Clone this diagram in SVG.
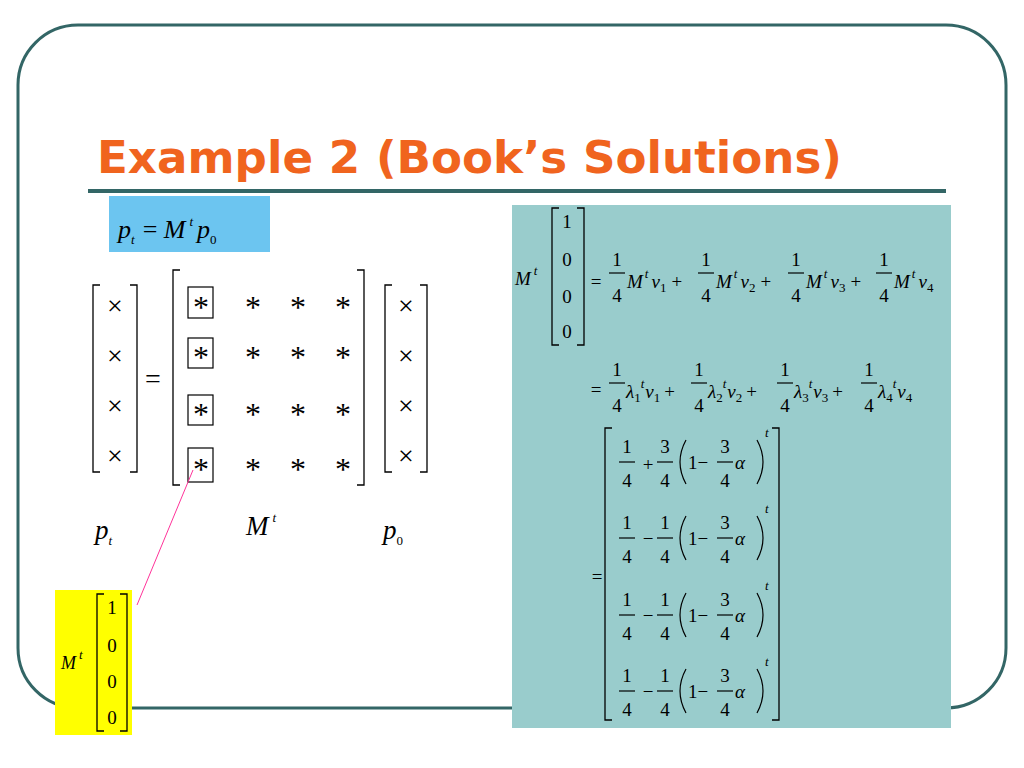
<svg xmlns="http://www.w3.org/2000/svg" width="1024" height="768" viewBox="0 0 1024 768">
<defs>
<style>
.m{font-family:"Liberation Serif",serif;fill:#000}
.i{font-style:italic}
.s{font-size:13px}
.br{fill:none;stroke:#000;stroke-width:1.3}
.fb{stroke:#000;stroke-width:1.2}
</style>
</defs>
<rect x="18" y="25" width="988" height="683" rx="60" fill="#fff" stroke="#336666" stroke-width="3"/>
<text x="97" y="173" font-family="Verdana,'DejaVu Sans',sans-serif" font-weight="bold" font-size="44" fill="#f0641e" textLength="745" lengthAdjust="spacingAndGlyphs">Example 2 (Book’s Solutions)</text>
<line x1="88" y1="191" x2="946" y2="191" stroke="#336666" stroke-width="4"/>

<g id="eq-top">
<rect x="109" y="196" width="161" height="56" fill="#6cc5f0"/>
<text class="m" x="118" y="238" font-size="26"><tspan class="i">p</tspan><tspan class="s i" dy="6">t</tspan><tspan dy="-6" dx="8">= </tspan><tspan class="i">M</tspan><tspan class="s i" dy="-12" dx="4">t</tspan><tspan class="i" dy="12" dx="4">p</tspan><tspan class="s" dy="6">0</tspan></text>
</g>

<g id="left-matrices">
<path class="br" d="M100,285 H93 V472 H100 M130,285 H137 V472 H130"/>
<g class="m" text-anchor="middle" font-size="28"><text x="115" y="315">×</text><text x="115" y="365">×</text><text x="115" y="415">×</text><text x="115" y="465">×</text></g>
<text class="m" x="153" y="388" text-anchor="middle" font-size="28">=</text>
<path class="br" d="M180,270 H173 V485 H180 M357,270 H364 V485 H357"/>
<g class="m" text-anchor="middle" font-size="32">
<text x="201" y="318">*</text><text x="253" y="318">*</text><text x="298" y="318">*</text><text x="343" y="318">*</text>
<text x="201" y="368">*</text><text x="253" y="368">*</text><text x="298" y="368">*</text><text x="343" y="368">*</text>
<text x="201" y="425">*</text><text x="253" y="425">*</text><text x="298" y="425">*</text><text x="343" y="425">*</text>
<text x="201" y="480">*</text><text x="253" y="480">*</text><text x="298" y="480">*</text><text x="343" y="480">*</text>
</g>
<g fill="none" stroke="#000" stroke-width="1.2">
<rect x="188" y="287" width="25" height="31"/><rect x="188" y="338" width="25" height="30"/>
<rect x="188" y="395" width="25" height="30"/><rect x="188" y="448" width="25" height="34"/>
</g>
<path class="br" d="M392,285 H385 V472 H392 M420,285 H427 V472 H420"/>
<g class="m" text-anchor="middle" font-size="28"><text x="406" y="315">×</text><text x="406" y="365">×</text><text x="406" y="415">×</text><text x="406" y="465">×</text></g>
<text class="m" x="95" y="539" font-size="27"><tspan class="i">p</tspan><tspan class="s i" dy="6">t</tspan></text>
<text class="m" x="246" y="535" font-size="27"><tspan class="i">M</tspan><tspan class="s i" dy="-13" dx="4">t</tspan></text>
<text class="m" x="383" y="539" font-size="27"><tspan class="i">p</tspan><tspan class="s" dy="6">0</tspan></text>
</g>

<g id="connectors"><line x1="193" y1="470" x2="137" y2="605" stroke="#ff3399" stroke-width="1"/></g>

<g id="yellow-box">
<rect x="55" y="590" width="77" height="145" fill="#ffff00"/>
<text class="m" x="61" y="669" font-size="18"><tspan class="i">M</tspan><tspan class="s i" dy="-10" dx="3">t</tspan></text>
<path class="br" d="M104,594 H97 V731 H104 M120,594 H127 V731 H120"/>
<g class="m" text-anchor="middle" font-size="19"><text x="112" y="614">1</text><text x="112" y="652">0</text><text x="112" y="688">0</text><text x="112" y="724">0</text></g>
</g>

<g id="solution">
<rect x="512" y="205" width="439" height="523" fill="#99cccc"/>
<text class="m" x="515" y="285" font-size="19"><tspan class="i">M</tspan><tspan class="s i" dy="-10" dx="3">t</tspan></text>
<path class="br" d="M559,208 H552 V345 H559 M577,208 H584 V345 H577"/>
<g class="m" text-anchor="middle" font-size="19"><text x="567" y="228">1</text><text x="567" y="266">0</text><text x="567" y="303">0</text><text x="567" y="338">0</text></g>
<g class="m" font-size="19" text-anchor="middle">
<text x="596" y="288">=</text>
<text x="617" y="266">1</text><line class="fb" x1="609" y1="273" x2="625" y2="273"/><text x="617" y="302">4</text>
<text x="706" y="266">1</text><line class="fb" x1="698" y1="273" x2="714" y2="273"/><text x="706" y="302">4</text>
<text x="796" y="266">1</text><line class="fb" x1="788" y1="273" x2="804" y2="273"/><text x="796" y="302">4</text>
<text x="884" y="266">1</text><line class="fb" x1="876" y1="273" x2="892" y2="273"/><text x="884" y="302">4</text>
</g>
<g class="m" font-size="19">
<text x="627" y="288"><tspan class="i">M</tspan><tspan class="s i" dy="-10" dx="2">t</tspan><tspan class="i" dy="10" dx="3">v</tspan><tspan class="s" dy="4">1</tspan><tspan dy="-4" dx="5">+</tspan></text>
<text x="716" y="288"><tspan class="i">M</tspan><tspan class="s i" dy="-10" dx="2">t</tspan><tspan class="i" dy="10" dx="3">v</tspan><tspan class="s" dy="4">2</tspan><tspan dy="-4" dx="5">+</tspan></text>
<text x="806" y="288"><tspan class="i">M</tspan><tspan class="s i" dy="-10" dx="2">t</tspan><tspan class="i" dy="10" dx="3">v</tspan><tspan class="s" dy="4">3</tspan><tspan dy="-4" dx="5">+</tspan></text>
<text x="894" y="288"><tspan class="i">M</tspan><tspan class="s i" dy="-10" dx="2">t</tspan><tspan class="i" dy="10" dx="3">v</tspan><tspan class="s" dy="4">4</tspan></text>
</g>
<g class="m" font-size="19" text-anchor="middle">
<text x="596" y="396">=</text>
<text x="617" y="376">1</text><line class="fb" x1="609" y1="383" x2="625" y2="383"/><text x="617" y="412">4</text>
<text x="699" y="376">1</text><line class="fb" x1="691" y1="383" x2="707" y2="383"/><text x="699" y="412">4</text>
<text x="785" y="376">1</text><line class="fb" x1="777" y1="383" x2="793" y2="383"/><text x="785" y="412">4</text>
<text x="869" y="376">1</text><line class="fb" x1="861" y1="383" x2="877" y2="383"/><text x="869" y="412">4</text>
</g>
<g class="m" font-size="19">
<text x="626" y="398"><tspan class="i">λ</tspan><tspan class="s" dy="4">1</tspan><tspan class="s i" dy="-14">t</tspan><tspan class="i" dy="10" dx="1">v</tspan><tspan class="s" dy="4">1</tspan><tspan dy="-4" dx="4">+</tspan></text>
<text x="708" y="398"><tspan class="i">λ</tspan><tspan class="s" dy="4">2</tspan><tspan class="s i" dy="-14">t</tspan><tspan class="i" dy="10" dx="1">v</tspan><tspan class="s" dy="4">2</tspan><tspan dy="-4" dx="4">+</tspan></text>
<text x="794" y="398"><tspan class="i">λ</tspan><tspan class="s" dy="4">3</tspan><tspan class="s i" dy="-14">t</tspan><tspan class="i" dy="10" dx="1">v</tspan><tspan class="s" dy="4">3</tspan><tspan dy="-4" dx="4">+</tspan></text>
<text x="878" y="398"><tspan class="i">λ</tspan><tspan class="s" dy="4">4</tspan><tspan class="s i" dy="-14">t</tspan><tspan class="i" dy="10" dx="1">v</tspan><tspan class="s" dy="4">4</tspan></text>
</g>
<text class="m" x="597" y="583" font-size="19" text-anchor="middle">=</text>
<path class="br" d="M612,428 H605 V720 H612 M772,428 H779 V720 H772"/>
<g id="rows" class="m" font-size="19">
<g>
<g text-anchor="middle"><text x="627" y="453">1</text><text x="627" y="487">4</text><text x="665" y="453">3</text><text x="665" y="487">4</text><text x="648" y="471">+</text><text x="725" y="453">3</text><text x="725" y="487">4</text></g>
<line class="fb" x1="619" y1="462" x2="635" y2="462"/><line class="fb" x1="657" y1="462" x2="673" y2="462"/><line class="fb" x1="717" y1="462" x2="733" y2="462"/>
<path d="M686,440 Q674,462 686,484 M757,440 Q769,462 757,484" fill="none" stroke="#000" stroke-width="1.2"/>
<text x="688" y="469">1−</text><text class="i" x="735" y="469">α</text><text class="s i" x="765" y="437">t</text>
</g>
<g transform="translate(0,76)">
<g text-anchor="middle"><text x="627" y="453">1</text><text x="627" y="487">4</text><text x="665" y="453">1</text><text x="665" y="487">4</text><text x="648" y="469">−</text><text x="725" y="453">3</text><text x="725" y="487">4</text></g>
<line class="fb" x1="619" y1="462" x2="635" y2="462"/><line class="fb" x1="657" y1="462" x2="673" y2="462"/><line class="fb" x1="717" y1="462" x2="733" y2="462"/>
<path d="M686,440 Q674,462 686,484 M757,440 Q769,462 757,484" fill="none" stroke="#000" stroke-width="1.2"/>
<text x="688" y="469">1−</text><text class="i" x="735" y="469">α</text><text class="s i" x="765" y="437">t</text>
</g>
<g transform="translate(0,153)">
<g text-anchor="middle"><text x="627" y="453">1</text><text x="627" y="487">4</text><text x="665" y="453">1</text><text x="665" y="487">4</text><text x="648" y="469">−</text><text x="725" y="453">3</text><text x="725" y="487">4</text></g>
<line class="fb" x1="619" y1="462" x2="635" y2="462"/><line class="fb" x1="657" y1="462" x2="673" y2="462"/><line class="fb" x1="717" y1="462" x2="733" y2="462"/>
<path d="M686,440 Q674,462 686,484 M757,440 Q769,462 757,484" fill="none" stroke="#000" stroke-width="1.2"/>
<text x="688" y="469">1−</text><text class="i" x="735" y="469">α</text><text class="s i" x="765" y="437">t</text>
</g>
<g transform="translate(0,229)">
<g text-anchor="middle"><text x="627" y="453">1</text><text x="627" y="487">4</text><text x="665" y="453">1</text><text x="665" y="487">4</text><text x="648" y="469">−</text><text x="725" y="453">3</text><text x="725" y="487">4</text></g>
<line class="fb" x1="619" y1="462" x2="635" y2="462"/><line class="fb" x1="657" y1="462" x2="673" y2="462"/><line class="fb" x1="717" y1="462" x2="733" y2="462"/>
<path d="M686,440 Q674,462 686,484 M757,440 Q769,462 757,484" fill="none" stroke="#000" stroke-width="1.2"/>
<text x="688" y="469">1−</text><text class="i" x="735" y="469">α</text><text class="s i" x="765" y="437">t</text>
</g>
</g>
</g>
</svg>
